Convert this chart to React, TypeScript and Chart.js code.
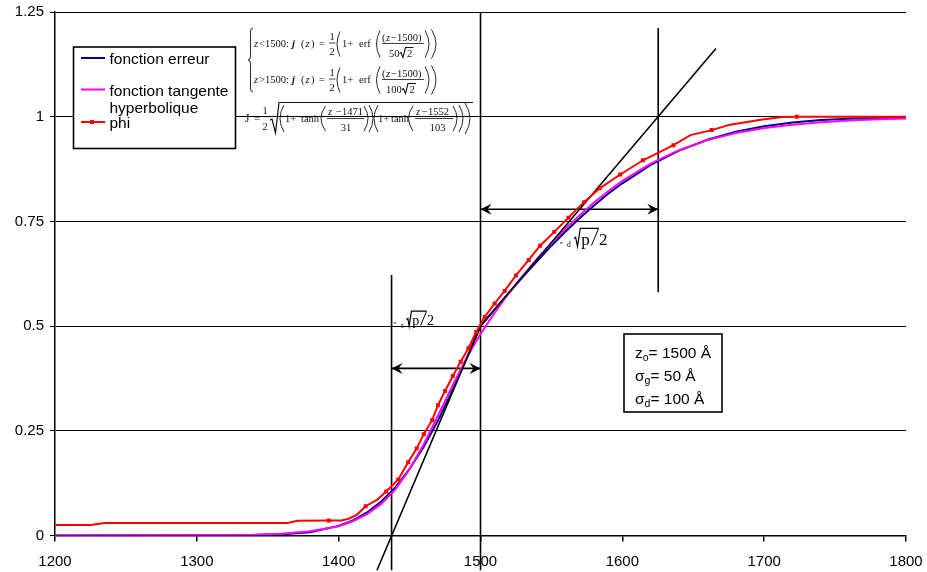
import React, { useEffect, useRef } from 'react';
import { Chart, registerables } from 'chart.js';

Chart.register(...registerables);

// ---------- data ----------
const xTicks = [1200, 1300, 1400, 1500, 1600, 1700, 1800];
const xTickLabels = ['1200', '1300', '1400', '1500', '1600', '1700', '1800'];
const yTicks = [0, 0.25, 0.5, 0.75, 1, 1.25];
const yTickLabels = ['0', '0.25', '0.5', '0.75', '1', '1.25'];

const seriesLabels = ['fonction erreur', 'fonction tangente hyperbolique', 'phi'];

const curveZ = [1200, 1340, 1360, 1380, 1400, 1410, 1420, 1430, 1440, 1450, 1460, 1470, 1480, 1490, 1500, 1510, 1520, 1530, 1540, 1550, 1560, 1570, 1580, 1590, 1600, 1620, 1640, 1660, 1680, 1700, 1720, 1740, 1760, 1780, 1800];
const erfValues = [0, 0.001, 0.003, 0.008, 0.023, 0.036, 0.055, 0.081, 0.115, 0.159, 0.212, 0.274, 0.345, 0.421, 0.5, 0.54, 0.579, 0.618, 0.655, 0.692, 0.726, 0.758, 0.788, 0.816, 0.841, 0.885, 0.919, 0.945, 0.964, 0.977, 0.986, 0.992, 0.995, 0.997, 0.998];
const tanhValues = [0, 0.002, 0.004, 0.01, 0.022, 0.034, 0.051, 0.075, 0.11, 0.158, 0.218, 0.286, 0.356, 0.423, 0.481, 0.532, 0.579, 0.621, 0.661, 0.698, 0.733, 0.765, 0.795, 0.822, 0.847, 0.888, 0.92, 0.944, 0.961, 0.973, 0.981, 0.987, 0.991, 0.994, 0.996];

const phiZ = [1200, 1225, 1235, 1364, 1371, 1393, 1402, 1407, 1413, 1419, 1427, 1433.5, 1442, 1449, 1455, 1460, 1466, 1470, 1475, 1480.5, 1486, 1491.5, 1497, 1503, 1510, 1517, 1525, 1534, 1542, 1552, 1562, 1573, 1584, 1598.5, 1614.5, 1636, 1648, 1663, 1676, 1700, 1713, 1723, 1800];
const phiValues = [0.025, 0.025, 0.03, 0.03, 0.035, 0.036, 0.036, 0.04, 0.05, 0.07, 0.085, 0.105, 0.134, 0.175, 0.208, 0.242, 0.276, 0.311, 0.345, 0.381, 0.415, 0.447, 0.486, 0.522, 0.554, 0.584, 0.621, 0.658, 0.692, 0.725, 0.759, 0.796, 0.829, 0.862, 0.896, 0.932, 0.956, 0.968, 0.981, 0.994, 0.999, 1.0, 1.0];
const phiMarked = [0, 0, 0, 0, 0, 1, 0, 0, 0, 1, 0, 1, 1, 1, 1, 1, 1, 1, 1, 1, 1, 1, 1, 1, 1, 1, 1, 1, 1, 1, 1, 1, 1, 1, 1, 1, 0, 1, 0, 0, 0, 1, 0];

const tangentZ = [1427, 1500, 1666];
const tangentValues = [-0.083, 0.5, 1.163];

const guideZ = [1437.3, 1500, 1625.3];
const guideTop = [0.622, 1.25, 1.212];
const guideBottom = [-0.083, -0.083, 0.581];

const arrowStart = [1437.3, 1500];
const arrowEnd = [1500, 1625.3];
const arrowLevel = [0.399, 0.779];

// ---------- helpers ----------
const SANS = '"Liberation Sans", Arial, Helvetica, sans-serif';
const SERIF = '"Liberation Serif", "Times New Roman", serif';
const sans = (s: number, style = '') => `${style} ${s}px ${SANS}`.trim();
const serif = (s: number, style = '') => `${style} ${s}px ${SERIF}`.trim();

function txt(ctx: CanvasRenderingContext2D, s: string, x: number, y: number, size = 10.5, style = '', align: CanvasTextAlign = 'left') {
  ctx.font = serif(size, style);
  ctx.textAlign = align;
  ctx.fillText(s, x, y);
}
function hline(ctx: CanvasRenderingContext2D, x1: number, x2: number, y: number, w = 0.8) {
  ctx.lineWidth = w;
  ctx.beginPath();
  ctx.moveTo(x1, y);
  ctx.lineTo(x2, y);
  ctx.stroke();
}
function paren(ctx: CanvasRenderingContext2D, x1: number, x2: number, y1: number, y2: number, open: boolean) {
  ctx.lineWidth = 0.9;
  ctx.beginPath();
  if (open) {
    ctx.moveTo(x2, y1);
    ctx.quadraticCurveTo(2 * x1 - x2, (y1 + y2) / 2, x2, y2);
  } else {
    ctx.moveTo(x1, y1);
    ctx.quadraticCurveTo(2 * x2 - x1, (y1 + y2) / 2, x1, y2);
  }
  ctx.stroke();
}
function rad(ctx: CanvasRenderingContext2D, x: number, yBase: number, h: number, xEnd: number, w = 1) {
  ctx.lineWidth = w;
  ctx.beginPath();
  ctx.moveTo(x, yBase - h * 0.4);
  ctx.lineTo(x + 1.5, yBase - h * 0.5);
  ctx.lineTo(x + 3.5, yBase);
  ctx.lineTo(x + 6, yBase - h);
  ctx.lineTo(xEnd, yBase - h);
  ctx.stroke();
}

function drawFormula(ctx: CanvasRenderingContext2D) {
  ctx.save();
  ctx.fillStyle = '#111';
  ctx.strokeStyle = '#111';
  ctx.textBaseline = 'alphabetic';
  // brace
  ctx.lineWidth = 0.9;
  ctx.beginPath();
  ctx.moveTo(253, 28);
  ctx.quadraticCurveTo(250.5, 28, 250.5, 32);
  ctx.lineTo(250.5, 56);
  ctx.quadraticCurveTo(250.5, 60, 248, 60);
  ctx.quadraticCurveTo(250.5, 60, 250.5, 64);
  ctx.lineTo(250.5, 88);
  ctx.quadraticCurveTo(250.5, 92, 253, 92);
  ctx.stroke();

  const rows = [
    { dy: 0, op: '<', den: '50', denX: 389, radX: 399.5, twoX: 407 },
    { dy: 36, op: '>', den: '100', denX: 386, radX: 402, twoX: 409.5 },
  ];
  rows.forEach((r) => {
    const b = 46.5 + r.dy;
    txt(ctx, 'z', 254, b, 10.5, 'italic');
    txt(ctx, r.op + '1500', 259, b);
    txt(ctx, ':', 286, b);
    txt(ctx, 'j', 292, b, 10.5, 'bold italic');
    txt(ctx, '(', 301, b);
    txt(ctx, 'z', 305.5, b, 10.5, 'italic');
    txt(ctx, ')', 311, b);
    txt(ctx, '=', 319, b);
    txt(ctx, '1', 332, b - 6.5, 10.5, '', 'center');
    hline(ctx, 329, 335.5, b - 3.5);
    txt(ctx, '2', 332, b + 8.5, 10.5, '', 'center');
    paren(ctx, 337, 340, b - 15, b + 10, true);
    txt(ctx, '1+', 342, b);
    txt(ctx, 'erf', 359, b);
    paren(ctx, 376.5, 380, b - 16, b + 11, true);
    txt(ctx, '(', 382, b - 6);
    txt(ctx, 'z', 386, b - 6, 10.5, 'italic');
    txt(ctx, '\u22121500)', 391, b - 6);
    hline(ctx, 382, 424, b - 3);
    txt(ctx, r.den, r.denX, b + 10.5);
    rad(ctx, r.radX, b + 11, 10, r.twoX + 6.5, 1.1);
    txt(ctx, '2', r.twoX, b + 10.5);
    paren(ctx, 425, 429, b - 16, b + 11, false);
    paren(ctx, 431.5, 436, b - 17, b + 12, false);
  });

  // row 3
  const b3 = 122;
  txt(ctx, 'J', 245, b3, 11.5);
  txt(ctx, '=', 254, b3);
  txt(ctx, '1', 265, b3 - 8.5, 10.5, '', 'center');
  hline(ctx, 262, 268.5, b3 - 5.3);
  txt(ctx, '2', 265, b3 + 8, 10.5, '', 'center');
  ctx.lineWidth = 1.2;
  ctx.beginPath();
  ctx.moveTo(270, b3 - 2);
  ctx.lineTo(272, b3 - 3);
  ctx.lineTo(275.5, b3 + 11);
  ctx.lineTo(279, 102.5);
  ctx.lineTo(473, 102.5);
  ctx.stroke();
  paren(ctx, 280, 284, 105, 132, true);
  txt(ctx, '1+', 285, b3);
  txt(ctx, 'tanh', 301, b3);
  paren(ctx, 321, 325.5, 106, 131, true);
  txt(ctx, 'z', 328, 115, 10.5, 'italic');
  txt(ctx, '\u22121471', 336, 115);
  hline(ctx, 327, 364, 118.5);
  txt(ctx, '31', 346, 131, 10.5, '', 'center');
  paren(ctx, 364, 368, 106, 131, false);
  paren(ctx, 369, 373, 105, 132, false);
  paren(ctx, 374, 378, 105, 132, true);
  txt(ctx, '1+', 378, b3);
  txt(ctx, 'tanh', 391, b3);
  paren(ctx, 408.5, 413, 106, 131, true);
  txt(ctx, 'z', 416, 115, 10.5, 'italic');
  txt(ctx, '\u22121552', 422, 115);
  hline(ctx, 415, 453, 118.5);
  txt(ctx, '103', 437.5, 131, 10.5, '', 'center');
  paren(ctx, 453, 457, 106, 131, false);
  paren(ctx, 459, 463, 105, 132, false);
  paren(ctx, 465, 470, 103, 134, false);
  ctx.restore();
}

function sqrtLabel(ctx: CanvasRenderingContext2D, x: number, base: number, size: number, sub: string) {
  ctx.save();
  ctx.fillStyle = '#000';
  ctx.strokeStyle = '#000';
  ctx.textBaseline = 'alphabetic';
  txt(ctx, '\u03c3', x - 7, base - 1, 5, '', 'left');
  txt(ctx, sub, x, base + 2, size * 0.45, '', 'left');
  const rx = x + size * 0.42;
  const top = base - size * 0.95;
  ctx.lineWidth = 1.2;
  ctx.beginPath();
  ctx.moveTo(rx, base - size * 0.35);
  ctx.lineTo(rx + 1.5, base - size * 0.42);
  ctx.lineTo(rx + size * 0.2, base + size * 0.12);
  ctx.lineTo(rx + size * 0.36, top);
  const pX = rx + size * 0.42;
  ctx.font = serif(size);
  const pw = ctx.measureText('p').width;
  const slashX1 = pX + pw + size * 0.1;
  const slashX2 = slashX1 + size * 0.42;
  ctx.lineTo(slashX2, top);
  ctx.stroke();
  txt(ctx, 'p', pX, base, size);
  ctx.lineWidth = 1;
  ctx.beginPath();
  ctx.moveTo(slashX1, base + 1);
  ctx.lineTo(slashX2, top);
  ctx.stroke();
  txt(ctx, '2', slashX2 + 0.5, base, size);
  ctx.restore();
}

function arrowHead(ctx: CanvasRenderingContext2D, x: number, y: number, dir: number) {
  ctx.beginPath();
  ctx.moveTo(x, y);
  ctx.lineTo(x - dir * 11, y - 5.5);
  ctx.lineTo(x - dir * 7, y);
  ctx.lineTo(x - dir * 11, y + 5.5);
  ctx.closePath();
  ctx.fill();
}

const overlayPlugin = {
  id: 'overlay',
  afterDatasetsDraw(chart: any) {
    const ctx: CanvasRenderingContext2D = chart.ctx;
    ctx.save();
    ctx.fillStyle = '#000';
    chart.data.datasets.forEach((ds: any, i: number) => {
      if (!ds.isArrow) return;
      const pts = chart.getDatasetMeta(i).data;
      const a = pts[0];
      const b = pts[pts.length - 1];
      arrowHead(ctx, b.x, b.y, 1);
      arrowHead(ctx, a.x, a.y, -1);
    });
    ctx.restore();
  },
  afterDraw(chart: any) {
    const ctx: CanvasRenderingContext2D = chart.ctx;
    const ds = chart.data.datasets;
    ctx.save();
    // legend box
    ctx.fillStyle = '#fff';
    ctx.fillRect(73.5, 47, 162, 101.5);
    ctx.strokeStyle = '#000';
    ctx.lineWidth = 1.6;
    ctx.strokeRect(73.5, 47, 162, 101.5);
    const lx1 = 81, lx2 = 105, tx = 109.5;
    ctx.textBaseline = 'alphabetic';
    ctx.textAlign = 'left';
    ctx.fillStyle = '#000';
    const entries = [
      { d: ds[0], ly: 58, two: false, ty: [64] },
      { d: ds[1], ly: 89.5, two: true, ty: [96, 112.5] },
      { d: ds[2], ly: 122, two: false, ty: [127.5] },
    ];
    entries.forEach((e, k) => {
      ctx.strokeStyle = e.d.borderColor;
      ctx.lineWidth = 2;
      ctx.beginPath();
      ctx.moveTo(lx1, e.ly);
      ctx.lineTo(lx2, e.ly);
      ctx.stroke();
      if (k === 2) {
        ctx.fillStyle = e.d.borderColor;
        ctx.fillRect(90, e.ly - 2, 4, 4);
      }
      ctx.fillStyle = '#000';
      ctx.font = sans(15.5);
      const words = e.d.label.split(' ');
      const lines = e.two ? [words.slice(0, 2).join(' '), words.slice(2).join(' ')] : [e.d.label];
      lines.forEach((s: string, j: number) => ctx.fillText(s, tx, e.ty[j]));
    });

    // parameter box
    ctx.fillStyle = '#fff';
    ctx.fillRect(624, 334, 98, 78);
    ctx.strokeStyle = '#000';
    ctx.lineWidth = 1.6;
    ctx.strokeRect(624, 334, 98, 78);
    ctx.fillStyle = '#000';
    const param = (main: string, sub: string, rest: string, x: number, y: number) => {
      ctx.font = sans(15.5);
      ctx.fillText(main, x, y);
      let w = ctx.measureText(main).width;
      ctx.font = sans(10.5);
      ctx.fillText(sub, x + w, y + 3);
      w += ctx.measureText(sub).width;
      ctx.font = sans(15.5);
      ctx.fillText(rest, x + w, y);
    };
    param('z', 'o', '= 1500 \u00c5', 635, 358);
    param('\u03c3', 'g', '= 50 \u00c5', 635, 381);
    param('\u03c3', 'd', '= 100 \u00c5', 635, 404);

    drawFormula(ctx);
    sqrtLabel(ctx, 400.5, 324.5, 14, 'g');
    sqrtLabel(ctx, 567, 244.5, 17, 'd');
    ctx.restore();
  },
};

export default function App() {
  const ref = useRef<HTMLCanvasElement | null>(null);
  useEffect(() => {
    document.body.style.margin = '0';
    const canvas = ref.current;
    if (!canvas) return;
    const xy = (xs: number[], ys: number[]) => xs.map((x, i) => ({ x, y: ys[i] }));
    const black = '#000';
    const datasets: any[] = [
      {
        label: seriesLabels[0],
        data: xy(curveZ, erfValues),
        borderColor: '#000080',
        borderWidth: 2,
        pointRadius: 0,
        showLine: true,
        order: 3,
      },
      {
        label: seriesLabels[1],
        data: xy(curveZ, tanhValues),
        borderColor: '#ff00ff',
        borderWidth: 2,
        pointRadius: 0,
        showLine: true,
        order: 2,
      },
      {
        label: seriesLabels[2],
        data: xy(phiZ, phiValues),
        borderColor: '#ff0000',
        backgroundColor: '#ff0000',
        borderWidth: 2,
        pointStyle: 'rect',
        pointRadius: phiMarked.map((m) => (m ? 2.8 : 0)),
        pointBorderWidth: 0,
        showLine: true,
        order: 0,
      },
      {
        label: 'tangent',
        data: xy(tangentZ, tangentValues),
        borderColor: black,
        borderWidth: 1.6,
        pointRadius: 0,
        showLine: true,
        clip: false,
        order: 1,
      },
    ];
    guideZ.forEach((z, i) => {
      datasets.push({
        label: 'guide' + i,
        data: [{ x: z, y: guideBottom[i] }, { x: z, y: guideTop[i] }],
        borderColor: black,
        borderWidth: 1.6,
        pointRadius: 0,
        showLine: true,
        clip: false,
        order: 4,
      });
    });
    arrowStart.forEach((z, i) => {
      datasets.push({
        label: 'arrow' + i,
        isArrow: true,
        data: [{ x: z, y: arrowLevel[i] }, { x: arrowEnd[i], y: arrowLevel[i] }],
        borderColor: black,
        borderWidth: 1.6,
        pointRadius: 0,
        showLine: true,
        clip: false,
        order: 4,
      });
    });

    const tickFont = { family: SANS, size: 15 };
    const chart = new Chart(canvas, {
      type: 'scatter',
      data: { datasets },
      options: {
        animation: false,
        responsive: true,
        maintainAspectRatio: false,
        devicePixelRatio: 1,
        layout: { padding: { top: 12, right: 21, left: 0, bottom: 0 } },
        plugins: { legend: { display: false }, tooltip: { enabled: false } },
        events: [],
        scales: {
          x: {
            type: 'linear',
            min: 1200,
            max: 1800,
            afterBuildTicks: (s: any) => {
              s.ticks = xTicks.map((v) => ({ value: v }));
            },
            afterFit: (s: any) => {
              s.height = 36.5;
              s.paddingLeft = 0;
              s.paddingRight = 0;
            },
            ticks: {
              color: '#000',
              font: tickFont,
              padding: 11,
              maxRotation: 0,
              autoSkip: false,
              callback: (_v: any, i: number) => xTickLabels[i],
            },
            grid: { drawOnChartArea: false, drawTicks: true, tickLength: 6, color: '#000', lineWidth: 1.5 },
            border: { display: true, color: '#000', width: 1.5 },
          },
          y: {
            type: 'linear',
            min: 0,
            max: 1.25,
            afterBuildTicks: (s: any) => {
              s.ticks = yTicks.map((v) => ({ value: v }));
            },
            afterFit: (s: any) => {
              s.width = 55;
              s.paddingTop = 0;
              s.paddingBottom = 0;
            },
            ticks: {
              color: '#000',
              font: tickFont,
              padding: 6,
              autoSkip: false,
              callback: (_v: any, i: number) => yTickLabels[i],
            },
            grid: { color: '#000', lineWidth: 1, drawTicks: true, tickLength: 5 },
            border: { display: true, color: '#000', width: 1.5 },
          },
        },
      },
      plugins: [overlayPlugin],
    });
    return () => chart.destroy();
  }, []);
  return (
    <div style={{ position: 'relative', width: 927, height: 572, background: '#fff' }}>
      <canvas ref={ref} />
    </div>
  );
}
